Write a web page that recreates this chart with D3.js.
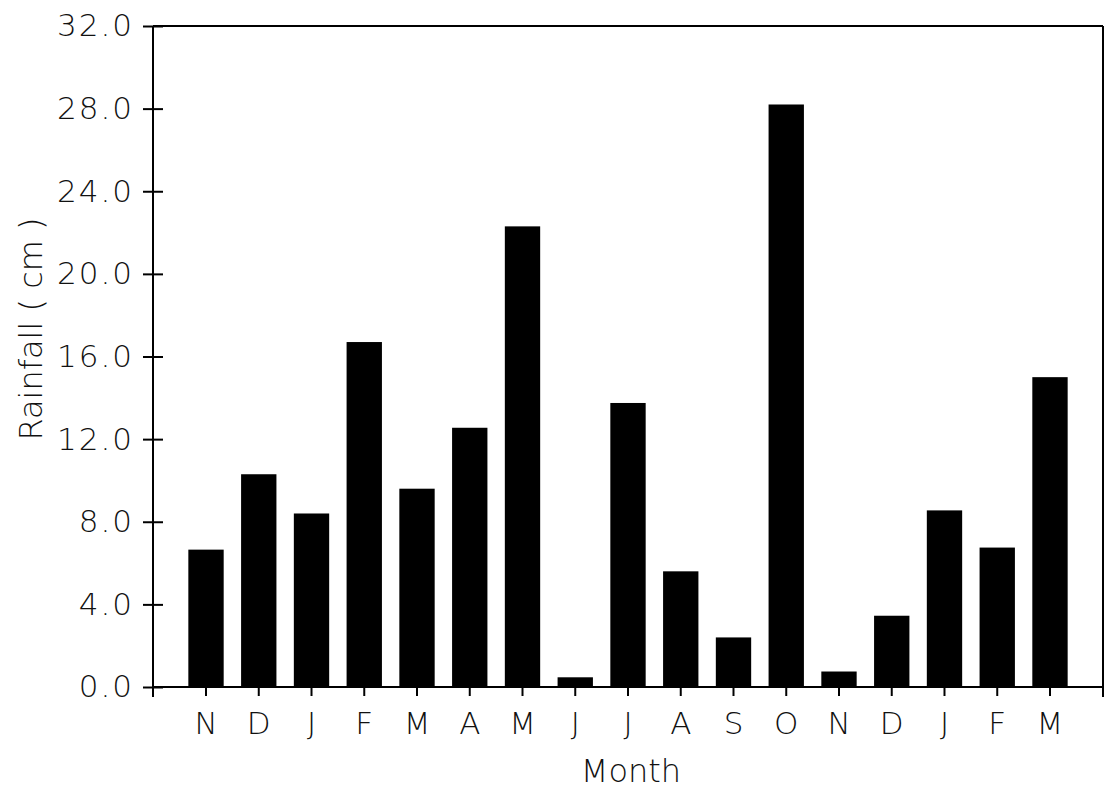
<!DOCTYPE html>
<html>
<head>
<meta charset="utf-8">
<script src="https://cdn.jsdelivr.net/npm/d3@7"></script>
<style>
  html, body { margin: 0; padding: 0; background: #fff; }
  svg { display: block; }
  .tick text { font-family: "DejaVu Sans", sans-serif; font-weight: 200; font-size: 31px; fill: #111; }
  .y-axis .tick text { letter-spacing: 2px; }
  .title { font-family: "DejaVu Sans", sans-serif; font-weight: 200; font-size: 32px; fill: #111; }
</style>
</head>
<body>
<svg id="chart" width="1108" height="790"></svg>
<script>
// Monthly rainfall, November through the following year's March
const months = ["N", "D", "J", "F", "M", "A", "M", "J", "J", "A", "S", "O", "N", "D", "J", "F", "M"];
const rainfall = [6.65, 10.3, 8.4, 16.7, 9.6, 12.55, 22.3, 0.47, 13.75, 5.6, 2.4, 28.2, 0.75, 3.45, 8.55, 6.75, 15.0];
const yTicks = [0, 4, 8, 12, 16, 20, 24, 28, 32];
const keys = months.map((m, i) => i);

const svg = d3.select("#chart");
const plotLeft = 153, plotRight = 1103, plotTop = 26, plotBottom = 687;

const x = d3.scaleBand()
  .domain(keys)
  .range([plotLeft, plotRight])
  .paddingInner(0.33)
  .paddingOuter(0.67);

const y = d3.scaleLinear().domain([0, 32]).range([plotBottom, plotTop]);

// bars
svg.append("g")
  .selectAll("rect")
  .data(rainfall)
  .join("rect")
  .attr("x", (d, i) => x(i))
  .attr("width", x.bandwidth())
  .attr("y", d => y(d))
  .attr("height", d => y(0) - y(d))
  .attr("fill", "#000");

// y axis: ticks cross the axis line
const yAxis = svg.append("g")
  .attr("class", "y-axis")
  .attr("transform", `translate(${plotLeft},0)`)
  .call(d3.axisLeft(y).tickValues(yTicks).tickFormat(d3.format(".1f"))
    .tickSize(10).tickPadding(9).tickSizeOuter(0));
yAxis.select(".domain").remove();
yAxis.selectAll(".tick line")
  .attr("x1", -10).attr("x2", 10)
  .attr("stroke", "#000").attr("stroke-width", 2);

// x axis
const xAxis = svg.append("g")
  .attr("transform", `translate(0,${plotBottom})`)
  .call(d3.axisBottom(x).tickFormat(i => months[i]).tickSize(9).tickPadding(16).tickSizeOuter(0));
xAxis.select(".domain").remove();
xAxis.selectAll(".tick line").attr("stroke", "#000").attr("stroke-width", 2);
xAxis.selectAll(".tick text").attr("dy", "0.71em");

// frame
const frame = svg.append("g").attr("stroke", "#000").attr("stroke-width", 2).attr("fill", "none");
frame.append("line").attr("x1", plotLeft).attr("x2", plotLeft).attr("y1", y(32)).attr("y2", y(0) + 10);
frame.append("line").attr("x1", plotRight).attr("x2", plotRight).attr("y1", y(32)).attr("y2", y(0) + 10);
frame.append("line").attr("x1", plotLeft).attr("x2", plotRight).attr("y1", y(32)).attr("y2", y(32));
frame.append("line").attr("x1", plotLeft).attr("x2", plotRight).attr("y1", y(0)).attr("y2", y(0));

// axis titles
svg.append("text")
  .attr("class", "title")
  .attr("x", 631)
  .attr("y", 782)
  .attr("text-anchor", "middle")
  .text("Month");

svg.append("text")
  .attr("class", "title")
  .attr("transform", "translate(42,329) rotate(-90)")
  .attr("text-anchor", "middle")
  .text("Rainfall ( cm )");
</script>
</body>
</html>
